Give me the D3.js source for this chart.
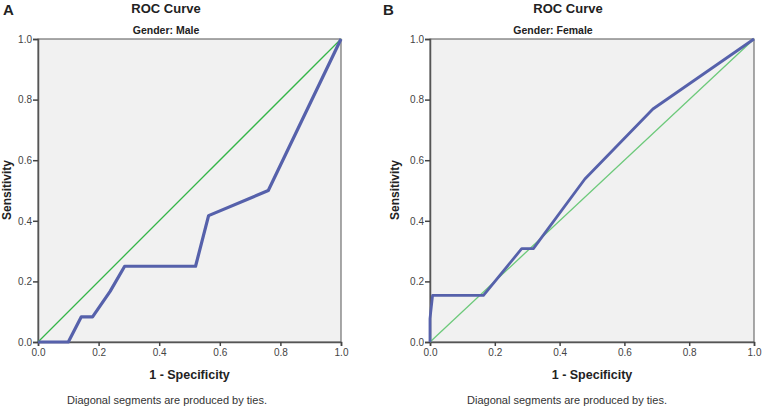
<!DOCTYPE html>
<html><head><meta charset="utf-8">
<script src="https://cdn.jsdelivr.net/npm/d3@7"></script>
<style>body{margin:0;background:#fff;}svg{display:block;font-family:"Liberation Sans",Arial,sans-serif;}</style>
</head><body>
<svg id="c" width="762" height="408"></svg>
<script>
const ticks = [0, 0.2, 0.4, 0.6, 0.8, 1.0];
const maleFPR = [0, 0.1, 0.143, 0.18, 0.238, 0.286, 0.52, 0.563, 0.76, 1];
const maleTPR = [0, 0, 0.083, 0.083, 0.167, 0.25, 0.25, 0.417, 0.5, 1];
const femaleFPR = [0, 0, 0.008, 0.165, 0.283, 0.319, 0.478, 0.688, 1];
const femaleTPR = [0, 0.077, 0.154, 0.154, 0.308, 0.308, 0.538, 0.769, 1];

const panels = [
  {letter:"A", sub:"Gender: Male", fx:maleFPR, ty:maleTPR, x0:38, x1:341, lx:3, titleX:166, subX:166, noteX:167, ylabX:7, lw:3.2, diag:"#34b548"},
  {letter:"B", sub:"Gender: Female", fx:femaleFPR, ty:femaleTPR, x0:430, x1:754, lx:383, titleX:568, subX:553, noteX:567, ylabX:395, lw:2.8, diag:"#6cc97a"}
];
const svg = d3.select("#c");
const y0 = 342, y1 = 39;

panels.forEach(p => {
  const x = d3.scaleLinear().domain([0,1]).range([p.x0, p.x1]);
  const y = d3.scaleLinear().domain([0,1]).range([y0, y1]);
  const g = svg.append("g");
  g.append("rect").attr("x", p.x0).attr("y", y1).attr("width", p.x1-p.x0).attr("height", y0-y1)
    .attr("fill", "#f1f1f1").attr("stroke", "#555").attr("stroke-width", 1);
  const xa = g.append("g").attr("transform", `translate(0,${y0})`)
    .call(d3.axisBottom(x).tickValues(ticks).tickFormat(d3.format(".1f")).tickSize(4).tickPadding(3));
  const ya = g.append("g").attr("transform", `translate(${p.x0},0)`)
    .call(d3.axisLeft(y).tickValues(ticks).tickFormat(d3.format(".1f")).tickSize(5).tickPadding(1));
  [xa, ya].forEach(a => {
    a.select(".domain").attr("stroke", "#555").attr("stroke-width", 1.5);
    a.selectAll(".tick line").attr("stroke", "#444").attr("stroke-width", 1.5);
    a.selectAll(".tick text").attr("fill", "#444").style("font-size", "10px").style("font-family", "Liberation Sans, Arial, sans-serif");
  });
  g.append("path").datum([[0,0],[1,1]])
    .attr("d", d3.line().x(d => x(d[0])).y(d => y(d[1])))
    .attr("fill", "none").attr("stroke", p.diag).attr("stroke-width", 1.3);
  const pts = p.fx.map((v,i) => [v, p.ty[i]]);
  g.append("path").datum(pts)
    .attr("d", d3.line().x(d => x(d[0])).y(d => y(d[1])))
    .attr("fill", "none").attr("stroke", "#5661ab").attr("stroke-width", p.lw).attr("stroke-linejoin", "round");
  g.append("text").attr("x", p.lx).attr("y", 15).text(p.letter)
    .attr("font-weight", "bold").attr("font-size", 15).attr("fill", "#222");
  g.append("text").attr("x", p.titleX).attr("y", 13).attr("text-anchor", "middle").text("ROC Curve")
    .attr("font-weight", "bold").attr("font-size", 13).attr("fill", "#222");
  g.append("text").attr("x", p.subX).attr("y", 34).attr("text-anchor", "middle").text(p.sub)
    .attr("font-weight", "bold").attr("font-size", 10.5).attr("fill", "#222");
  g.append("text").attr("x", (p.x0+p.x1)/2).attr("y", 379).attr("text-anchor", "middle").text("1 - Specificity")
    .attr("font-weight", "bold").attr("font-size", 12.5).attr("fill", "#222");
  g.append("text").attr("transform", `translate(${p.ylabX},${190}) rotate(-90)`).attr("text-anchor", "middle")
    .attr("dy", "0.35em").text("Sensitivity").attr("font-weight", "bold").attr("font-size", 12).attr("fill", "#222");
  g.append("text").attr("x", p.noteX).attr("y", 404).attr("text-anchor", "middle").text("Diagonal segments are produced by ties.")
    .attr("font-size", 11).attr("fill", "#333");
});
</script>
</body></html>
